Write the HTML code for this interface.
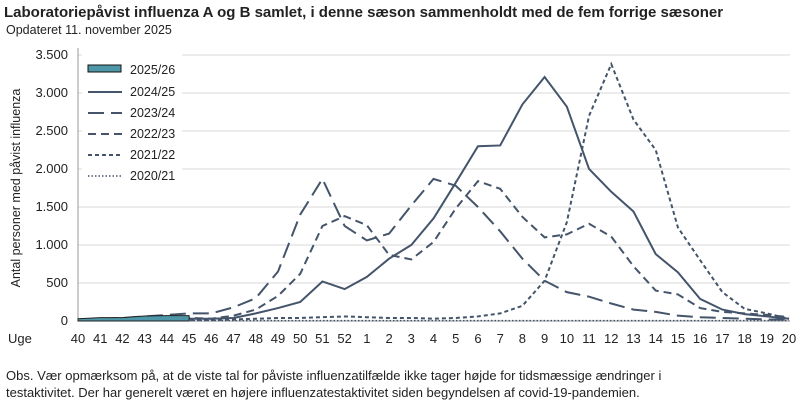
<!DOCTYPE html>
<html><head><meta charset="utf-8"><style>
body{margin:0;background:#fff;width:800px;height:410px;overflow:hidden;font-family:"Liberation Sans",sans-serif;}
</style></head><body>
<svg id="s" width="800" height="410" xmlns="http://www.w3.org/2000/svg" font-family="Liberation Sans, sans-serif">
<text x="4" y="17" font-size="15" font-weight="bold" fill="#222">Laboratoriepåvist influenza A og B samlet, i denne sæson sammenholdt med de fem forrige sæsoner</text>
<text x="6" y="34" font-size="12.5" fill="#222">Opdateret 11. november 2025</text>
<text transform="translate(20,188) rotate(-90)" text-anchor="middle" font-size="12.5" fill="#222">Antal personer med påvist influenza</text>
<text x="6" y="380" font-size="13" fill="#222">Obs. Vær opmærksom på, at de viste tal for påviste influenzatilfælde ikke tager højde for tidsmæssige ændringer i</text>
<text x="6" y="397" font-size="13" fill="#222">testaktivitet. Der har generelt været en højere influenzatestaktivitet siden begyndelsen af covid-19-pandemien.</text>
<g id="g"></g>
</svg>
<script>
const g=document.getElementById('g');const NS='http://www.w3.org/2000/svg';
function el(t,a,txt){const e=document.createElementNS(NS,t);for(const k in a)e.setAttribute(k,a[k]);if(txt!==undefined)e.textContent=txt;g.appendChild(e);return e;}
const X=i=>78+i*22.22, Y=v=>321-v*38/500;
for(let v=500;v<=3500;v+=500)el('line',{x1:78,x2:790,y1:Y(v),y2:Y(v),stroke:'#d9d9d9','stroke-width':1});
const fmt=v=>v>=1000?Math.floor(v/1000)+'.'+String(v%1000).padStart(3,'0'):String(v);
for(let v=0;v<=3500;v+=500)el('text',{x:68,y:Y(v)+4,'text-anchor':'end','font-size':13,fill:'#222'},fmt(v));
el('line',{x1:78,x2:78,y1:48,y2:321,stroke:'#999'});
el('line',{x1:78,x2:790,y1:321,y2:321,stroke:'#999'});
const wk=[];for(let w=40;w<=52;w++)wk.push(w);for(let w=1;w<=20;w++)wk.push(w);
el('text',{x:8,y:343,'font-size':13,fill:'#222'},'Uge');
wk.forEach((w,i)=>el('text',{x:X(i),y:343,'text-anchor':'middle','font-size':13,fill:'#222'},w));
const C='#44546a';
const S=[
{d:[5,5,5,5,5,5,5,5,5,5,5,5,5,5,5,5,5,5,5,5,5,5,5,5,5,5,5,5,5,5,5,5,5],da:'1.5 2',w:1.5},
{d:[10,10,10,10,10,10,10,20,30,40,40,50,60,50,40,40,30,40,60,100,200,530,1300,2700,3380,2650,2250,1230,800,380,160,100,30],da:'4 3',w:2},
{d:[20,20,20,20,30,40,30,70,150,330,620,1250,1380,1260,870,810,1040,1480,1840,1740,1370,1100,1140,1280,1110,720,400,350,170,120,100,80,50],da:'8 5',w:2},
{d:[20,30,40,60,80,100,100,180,300,650,1400,1870,1250,1060,1150,1520,1870,1780,1500,1180,820,530,380,320,230,150,120,70,50,40,30,20,20],da:'16 7',w:2},
{d:[20,30,30,50,50,30,30,40,100,170,250,520,420,580,820,1000,1350,1820,2300,2310,2850,3210,2820,2000,1700,1440,880,640,290,150,90,60,30],da:'',w:2}
];
S.forEach(s=>{el('polyline',{points:s.d.map((v,i)=>X(i)+','+Y(v)).join(' '),fill:'none',stroke:C,'stroke-width':s.w,'stroke-dasharray':s.da});});
const a=[30,45,45,65,70,70];
el('polygon',{points:a.map((v,i)=>X(i)+','+Y(v)).join(' ')+' '+X(5)+','+Y(0)+' '+X(0)+','+Y(0),fill:'#4e97a8',stroke:'#222','stroke-width':1});
el('rect',{x:82,y:46,width:100,height:144,fill:'#fff'});
el('rect',{x:88,y:65,width:33,height:7,fill:'#4e97a8',stroke:'#111','stroke-width':1});
const L=[['2024/25','',2],['2023/24','16 7',2],['2022/23','8 5',2],['2021/22','4 3',2],['2020/21','1.5 2',1.5]];
el('text',{x:130,y:74,'font-size':12.5,fill:'#222'},'2025/26');
L.forEach((l,k)=>{const y=92+k*21;el('line',{x1:88,x2:122,y1:y,y2:y,stroke:C,'stroke-width':l[2],'stroke-dasharray':l[1]});el('text',{x:130,y:y+4,'font-size':12.5,fill:'#222'},l[0]);});
</script>
</body></html>
